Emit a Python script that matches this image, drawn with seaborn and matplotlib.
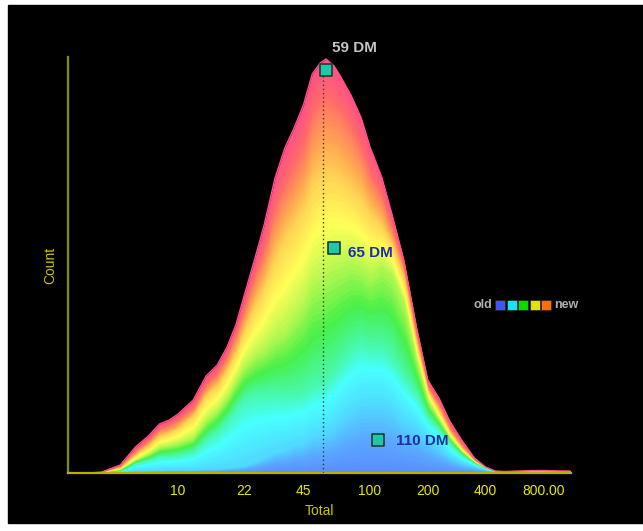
import matplotlib
matplotlib.use("Agg")
import matplotlib.pyplot as plt
from matplotlib.colors import LinearSegmentedColormap
from matplotlib.patches import Rectangle
import numpy as np
import seaborn as sns

# x positions on the log "Total" axis
total = [3.5, 4, 5, 6, 7, 8, 9, 10, 12, 14, 16, 18, 20, 22, 25, 28, 32, 36, 40, 45,
         50, 55, 59, 65, 70, 80, 90, 100, 115, 130, 150, 175, 200, 230, 260, 300,
         350, 400, 450, 500, 600, 700, 800, 1000, 1100]

# cumulative tops of the stacked layers, old (bottom) -> new (top)
blue_top = [0, 0.1, 0.5, 2, 2, 2.5, 3, 3, 3, 4, 4, 5, 6, 7, 11, 15, 21, 23, 28, 29,
            36, 37, 41, 45, 52, 60, 67, 68, 68, 62, 51, 44, 33, 24, 16, 10,
            6, 3, 0.9, 0.7, 0.9, 1, 1, 0.9, 0.9]
cyan_top = [0, 0.3, 2, 10, 13, 17, 17, 18, 22, 34, 42, 53, 65, 74, 79, 79, 80, 78, 79, 81,
            88, 90, 95, 102, 111, 124, 131, 127, 127, 117, 98, 80, 56, 44, 30, 18,
            10, 4.5, 1.8, 1.4, 1.8, 2.3, 2.3, 1.9, 1.9]
green_top = [0, 0.45, 3.5, 13, 19, 26, 28, 30, 36, 53, 63, 76, 92, 106, 117, 124, 136, 143, 155, 169,
             188, 193, 199, 204, 206, 211, 206, 199, 207, 199, 170, 113, 73, 53, 36, 22,
             11, 4.9, 1.9, 1.45, 2, 2.5, 2.5, 2, 2]
yellow_top = [0, 0.65, 5.5, 18, 27, 37, 40, 45, 57, 78, 87, 103, 121, 141, 166, 185, 215, 234, 248, 265,
              287, 295, 298, 297, 294, 283, 273, 258, 246, 228, 194, 128, 82, 61, 41, 25,
              12, 5.3, 1.95, 1.5, 2, 2.5, 2.5, 2, 2]
orange_top = [0, 0.85, 7, 22, 32, 43, 47, 52, 64, 87, 98, 115, 136, 160, 192, 217, 257, 280, 296, 316,
              347, 361, 364, 358, 353, 336, 316, 293, 272, 243, 204, 136, 86, 67, 45, 28,
              13, 5.6, 2, 1.5, 2, 2.5, 2.5, 2, 2]
count_top = [0, 1, 8, 26, 37, 49, 53, 59, 73, 97, 108, 126, 148, 176, 213, 247, 295, 325, 344, 368,
             399, 410, 414, 407, 397, 377, 355, 326, 296, 259, 213, 145, 93, 74, 52, 33,
             15, 6, 2, 1.5, 2, 2.5, 2.5, 2, 2]

marker_total = [59, 65, 110]
marker_count = [403, 225, 33]
marker_labels = ["59 DM", "65 DM", "110 DM"]
median_total = 57

tick_values = [10, 22, 45, 100, 200, 400, 800]
tick_labels = ["10", "22", "45", "100", "200", "400", "800.00"]
legend_colors = ["#4452fa", "#12e6fa", "#00dc00", "#e2e200", "#ff7000"]

sns.set_style("dark")
plt.rcParams["font.family"] = ["Liberation Sans", "DejaVu Sans"]

fig = plt.figure(figsize=(6.43, 5.31), dpi=100, facecolor="white")
fig.patches.append(Rectangle((8 / 643, 8 / 531), 1, 518 / 531, transform=fig.transFigure,
                             color="black", zorder=-5))
ax = fig.add_axes([68 / 643, 58 / 531, 503 / 643, 416 / 531])
ax.set_facecolor("black")

# smooth colour blend across the stacked layers: paint from the top band down,
# each band filled to the baseline so no dark seams show between bands
cmap = LinearSegmentedColormap.from_list("age", [
    (0.0, "#5a8cff"), (0.5 / 6, "#5aa8ff"), (1.0 / 6, "#50d8ff"), (1.6 / 6, "#48ffff"),
    (2.5 / 6, "#48f048"), (3.0 / 6, "#b4f850"), (3.5 / 6, "#ffff58"),
    (4.5 / 6, "#ffa850"), (5.3 / 6, "#ff6a6a"), (1.0, "#ff5088")])
layers = [np.zeros(len(total)), blue_top, cyan_top, green_top, yellow_top, orange_top, count_top]
n_sub = 16
for k in reversed(range(6)):
    lo = np.asarray(layers[k], float)
    hi = np.asarray(layers[k + 1], float)
    for j in reversed(range(n_sub)):
        y1 = lo + (hi - lo) * (j + 1) / n_sub
        c = cmap((k + (j + 0.5) / n_sub) / 6)
        ax.fill_between(total, 0, y1, color=c, lw=0)

sns.lineplot(x=total, y=count_top, color="#ff5088", lw=1.0, ax=ax)

ax.vlines(median_total, 0, marker_count[0], colors="#3a3a3a", linestyles=(0, (1, 2)), lw=1, zorder=4)

sns.scatterplot(x=marker_total, y=marker_count, marker="s", s=80, color="#1fc9a8",
                edgecolor="#1d3d33", linewidth=1.2, ax=ax, zorder=5, legend=False)
offsets = [(4, 16), (10, -3.5), (13, -1)]
label_colors = ["#c4c4c4", "#1c2fa8", "#1c2fa8"]
for xv, yv, lab, off, col in zip(marker_total, marker_count, marker_labels, offsets, label_colors):
    ax.annotate(lab, (xv, yv), xytext=off, textcoords="offset points", color=col,
                fontsize=11, fontweight="bold", va="center", ha="left", annotation_clip=False)

ax.set_xscale("log")
ax.set_xlim(2.67, 1115)
ax.set_ylim(0, 416)
ax.set_xticks(tick_values)
ax.set_xticklabels(tick_labels)
ax.minorticks_off()
ax.set_yticks([])
ax.tick_params(axis="x", colors="#e8e800", length=5, width=1, pad=3, labelsize=10, direction="out")
ax.set_xlabel("Total", color="#c8c800", fontsize=10, labelpad=4)
ax.set_ylabel("Count", color="#c8c800", fontsize=10, labelpad=8)
ax.grid(False)
for side in ["top", "right"]:
    ax.spines[side].set_visible(False)
ax.spines["left"].set_color("#8a8a00")
ax.spines["left"].set_linewidth(1.6)
ax.spines["bottom"].set_color("#b4b400")
ax.spines["bottom"].set_linewidth(1.6)

# old -> new colour key
fig.text(492 / 643, 1 - 305 / 531, "old", color="#b0b0b0", fontsize=9, fontweight="bold",
         ha="right", va="center")
for i, col in enumerate(legend_colors):
    x0 = (495 + i * 11.6) / 643
    fig.patches.append(Rectangle((x0, 1 - 309.5 / 531), 10 / 643, 10 / 531, transform=fig.transFigure,
                                 facecolor=col, edgecolor="#222222", lw=0.5))
fig.text(554 / 643, 1 - 305 / 531, "new", color="#b0b0b0", fontsize=9, fontweight="bold",
         ha="left", va="center")

fig.savefig("out.png", dpi=100, facecolor=fig.get_facecolor())
